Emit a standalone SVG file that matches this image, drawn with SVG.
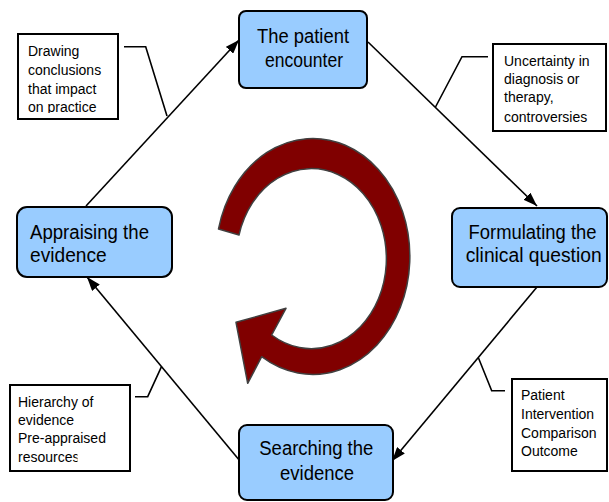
<svg xmlns="http://www.w3.org/2000/svg" width="609" height="502" viewBox="0 0 609 502">
<style>
.node rect{fill:#99CCFF;stroke:#000;stroke-width:2}
.node text{font-family:"Liberation Sans",Arial,sans-serif;font-size:19.5px;fill:#000}
.note rect{fill:#fff;stroke:#000;stroke-width:2}
.note text{font-family:"Liberation Sans",Arial,sans-serif;font-size:14px;fill:#000}
.conn line{stroke:#000;stroke-width:1.6;marker-end:url(#ah)}
.conn polyline{fill:none;stroke:#000;stroke-width:1.6}
</style>
<defs>
<marker id="ah" viewBox="0 0 14 10" refX="14" refY="5" markerWidth="14" markerHeight="10" markerUnits="userSpaceOnUse" orient="auto">
<path d="M0,0 L14,5 L0,10 z" fill="#000"/>
</marker>
<clipPath id="clipTL"><rect x="18" y="34" width="100" height="79"/></clipPath>
<clipPath id="clipBL"><rect x="10" y="385" width="67.5" height="86"/></clipPath>
</defs>
<rect width="609" height="502" fill="#fff"/>
<path id="cycle" d="M218.5,229 A97,118 0 1 1 261.7,356.7 L247.7,383.3 L236,322.3 L286,308.3 L271.7,335 A75,90 0 1 0 239,235 Z" fill="#800000" stroke="#404040" stroke-width="1.5" stroke-linejoin="round"/>
<g class="conn" id="connectors">
<line x1="86" y1="206" x2="239" y2="40"/>
<line x1="368" y1="42" x2="537" y2="206"/>
<line x1="537" y1="287" x2="392" y2="461"/>
<line x1="240" y1="461" x2="87" y2="277"/>
<polyline points="124,46.7 145.7,46.7 167,116"/>
<polyline points="488,56.7 462,56.7 435.5,107"/>
<polyline points="505,390.7 491.7,390.7 478.5,358"/>
<polyline points="135,396.7 147.7,396.7 161.5,366.7"/>
</g>
<g class="node" id="patient">
<rect x="239" y="11" width="128" height="77" rx="7"/>
<text x="303" y="43" text-anchor="middle" textLength="92" lengthAdjust="spacingAndGlyphs">The patient</text>
<text x="304" y="67" text-anchor="middle" textLength="78" lengthAdjust="spacingAndGlyphs">encounter</text>
</g>
<g class="node" id="formulating">
<rect x="452" y="208" width="155" height="79" rx="8"/>
<text x="532.5" y="239" text-anchor="middle" textLength="128" lengthAdjust="spacingAndGlyphs">Formulating the</text>
<text x="533.7" y="262" text-anchor="middle" textLength="136" lengthAdjust="spacingAndGlyphs">clinical question</text>
</g>
<g class="node" id="searching">
<rect x="239" y="425" width="154" height="75" rx="8"/>
<text x="316.3" y="455" text-anchor="middle" textLength="114" lengthAdjust="spacingAndGlyphs">Searching the</text>
<text x="317" y="480" text-anchor="middle" textLength="74" lengthAdjust="spacingAndGlyphs">evidence</text>
</g>
<g class="node" id="appraising">
<rect x="17" y="207" width="155" height="70" rx="10"/>
<text x="30" y="238.5" textLength="119" lengthAdjust="spacingAndGlyphs">Appraising the</text>
<text x="30" y="262" textLength="76.7" lengthAdjust="spacingAndGlyphs">evidence</text>
</g>
<g class="note" id="note-drawing">
<rect x="18" y="34" width="100" height="85"/>
<g clip-path="url(#clipTL)">
<text x="28" y="56">Drawing</text>
<text x="28" y="75">conclusions</text>
<text x="28" y="93.5">that impact</text>
<text x="28" y="112">on practice</text>
</g>
</g>
<g class="note" id="note-uncertainty">
<rect x="493" y="44" width="113" height="87"/>
<text x="504" y="65.5">Uncertainty in</text>
<text x="504" y="84.3">diagnosis or</text>
<text x="504" y="102.3">therapy,</text>
<text x="504" y="121.5">controversies</text>
</g>
<g class="note" id="note-pico">
<rect x="512" y="379" width="95" height="92"/>
<text x="521" y="400">Patient</text>
<text x="521" y="419">Intervention</text>
<text x="521" y="437.5">Comparison</text>
<text x="521" y="456">Outcome</text>
</g>
<g class="note" id="note-hierarchy">
<rect x="10" y="385" width="120" height="86"/>
<text x="18" y="407">Hierarchy of</text>
<text x="18" y="424.5">evidence</text>
<text x="18" y="443">Pre-appraised</text>
<text x="18" y="461.5" clip-path="url(#clipBL)">resources</text>
</g>
</svg>
